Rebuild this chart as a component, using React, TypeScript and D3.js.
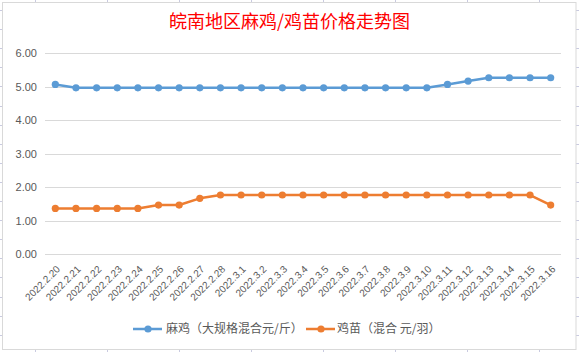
import React from 'react';
import * as d3 from 'd3';

const dates = [
  '2022.2.20', '2022.2.21', '2022.2.22', '2022.2.23', '2022.2.24', '2022.2.25', '2022.2.26',
  '2022.2.27', '2022.2.28', '2022.3.1', '2022.3.2', '2022.3.3', '2022.3.4', '2022.3.5',
  '2022.3.6', '2022.3.7', '2022.3.8', '2022.3.9', '2022.3.10', '2022.3.11', '2022.3.12',
  '2022.3.13', '2022.3.14', '2022.3.15', '2022.3.16',
];

// 麻鸡（大规格混合元/斤）
const majiPrices = [
  5.07, 4.97, 4.97, 4.97, 4.97, 4.97, 4.97, 4.97, 4.97, 4.97, 4.97, 4.97, 4.97,
  4.97, 4.97, 4.97, 4.97, 4.97, 4.97, 5.07, 5.17, 5.27, 5.27, 5.27, 5.27,
];

// 鸡苗（混合 元/羽）
const jimiaoPrices = [
  1.37, 1.37, 1.37, 1.37, 1.37, 1.47, 1.47, 1.67, 1.77, 1.77, 1.77, 1.77, 1.77,
  1.77, 1.77, 1.77, 1.77, 1.77, 1.77, 1.77, 1.77, 1.77, 1.77, 1.77, 1.47,
];

const yTicks = [0, 1, 2, 3, 4, 5, 6];

const seriesList = [
  { name: '麻鸡（大规格混合元/斤）', values: majiPrices, color: '#5B9BD5' },
  { name: '鸡苗（混合 元/羽）', values: jimiaoPrices, color: '#ED7D31' },
];

const W = 579;
const H = 352;
const plot = { left: 45, right: 561, top: 53.3, bottom: 254.3 };
const labelColor = '#595959';

export default function App() {
  const x = d3.scaleBand<string>().domain(dates).range([plot.left, plot.right]);
  const y = d3.scaleLinear().domain([0, 6]).range([plot.bottom, plot.top]);
  const cx = (d: string) => (x(d) ?? 0) + x.bandwidth() / 2;

  const line = d3.line<number>()
    .x((_, i) => cx(dates[i]))
    .y(v => y(v));

  // spreadsheet cell lines peeking around the chart frame
  const sheetCols = d3.range(35, W, 72);
  const sheetRows = d3.range(10, H, 19.1);

  const legendItems = [
    { x0: 133, textX: 166 },
    { x0: 306, textX: 337 },
  ];

  return (
    <div style={{ position: 'absolute', left: 0, top: 0 }}>
      <svg width={W} height={H} style={{ display: 'block', background: '#fff' }}
        fontFamily="'Liberation Sans', 'Noto Sans CJK SC', sans-serif">
        {sheetCols.map(c => (
          <g key={'c' + c} stroke="#C9CAE0" strokeWidth={1}>
            <line x1={c + 0.5} x2={c + 0.5} y1={0} y2={2} />
            <line x1={c + 0.5} x2={c + 0.5} y1={350} y2={H} />
          </g>
        ))}
        {sheetRows.map(r => (
          <g key={'r' + r} stroke="#C9CAE0" strokeWidth={1}>
            <line x1={0} x2={2} y1={Math.round(r) + 0.5} y2={Math.round(r) + 0.5} />
            <line x1={576} x2={W} y1={Math.round(r) + 0.5} y2={Math.round(r) + 0.5} />
          </g>
        ))}
        <rect x={2.5} y={2.5} width={573.5} height={347} fill="#fff" stroke="#D9D9D9" />

        <text x={W / 2} y={28} textAnchor="middle" fill="#FF0000" fontSize={18}
          fontFamily="'Noto Sans CJK SC', sans-serif">
          皖南地区麻鸡/鸡苗价格走势图
        </text>

        {yTicks.map(t => (
          <g key={t}>
            <line x1={plot.left} x2={plot.right} y1={Math.round(y(t)) + 0.5} y2={Math.round(y(t)) + 0.5}
              stroke="#D9D9D9" strokeWidth={1} />
            <text x={37} y={y(t)} dy="0.35em" textAnchor="end" fontSize={11} fill={labelColor}>
              {t.toFixed(2)}
            </text>
          </g>
        ))}

        {dates.map(d => (
          <text key={d} transform={`translate(${cx(d) + 3},${plot.bottom + 13}) rotate(-45)`}
            textAnchor="end" dy="0.35em" fontSize={10} fill={labelColor}>
            {d}
          </text>
        ))}

        {seriesList.map(s => (
          <g key={s.name}>
            <path d={line(s.values) ?? ''} fill="none" stroke={s.color} strokeWidth={2.5}
              strokeLinejoin="round" />
            {s.values.map((v, i) => (
              <circle key={i} cx={cx(dates[i])} cy={y(v)} r={3.6} fill={s.color} />
            ))}
          </g>
        ))}

        {seriesList.map((s, i) => {
          const it = legendItems[i];
          return (
            <g key={'lg' + s.name}>
              <line x1={it.x0} x2={it.x0 + 29} y1={329} y2={329} stroke={s.color} strokeWidth={2.5} />
              <circle cx={it.x0 + 15} cy={329} r={3.6} fill={s.color} />
              <text x={it.textX} y={329} dy="0.35em" fontSize={12} fill={labelColor}
                fontFamily="'Noto Sans CJK SC', sans-serif">
                {s.name}
              </text>
            </g>
          );
        })}
      </svg>
    </div>
  );
}
